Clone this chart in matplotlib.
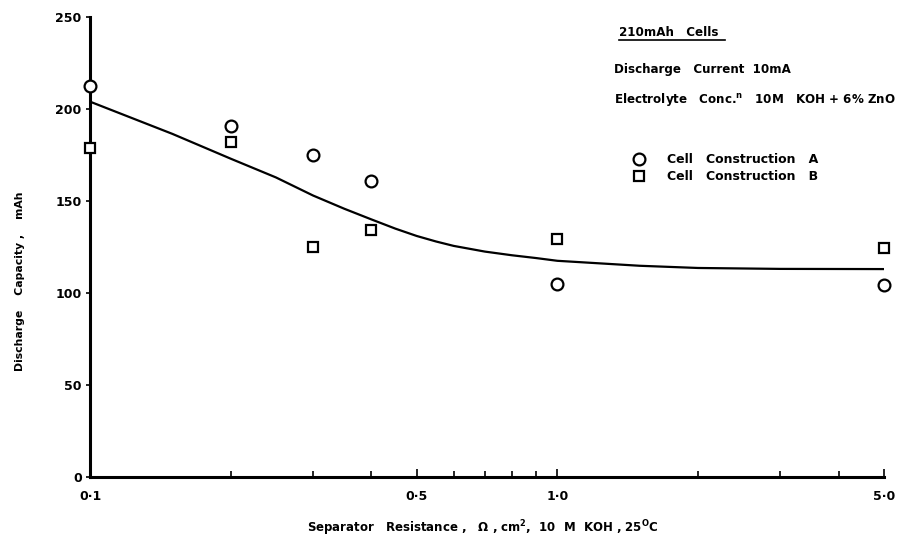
import matplotlib
matplotlib.use("Agg")
import matplotlib.pyplot as plt
from matplotlib.ticker import FixedLocator, FixedFormatter, NullFormatter

plt.rcParams['font.family'] = ['DejaVu Sans']
plt.rcParams['mathtext.fontset'] = 'dejavusans'

# Separator resistance (ohm cm^2) for each tested cell
resistance = [0.1, 0.2, 0.3, 0.4, 1.0, 5.0]
capacity_a = [212.5, 190.8, 175.0, 160.9, 104.9, 104.3]
capacity_b = [178.8, 182.0, 125.0, 134.0, 129.3, 124.5]

# Drawn trend line through the data
trend_x = [0.1, 0.15, 0.2, 0.25, 0.3, 0.35, 0.4, 0.45, 0.5, 0.55, 0.6, 0.7,
           0.8, 0.9, 1.0, 1.5, 2.0, 3.0, 5.0]
trend_y = [204.0, 186.5, 173.0, 162.8, 153.0, 145.8, 140.0, 135.0, 131.0, 128.0,
           125.6, 122.5, 120.5, 119.0, 117.5, 114.8, 113.6, 113.1, 113.0]

xtick_vals = [0.1, 0.5, 1.0, 5.0]
xtick_text = ['0·1', '0·5', '1·0', '5·0']
minor_vals = [0.2, 0.3, 0.4, 0.6, 0.7, 0.8, 0.9, 2.0, 3.0, 4.0]
ytick_vals = [0, 50, 100, 150, 200, 250]

fig = plt.figure(figsize=(8.99, 5.39), dpi=100)
ax = fig.add_axes([90/899, 1-477/539, (884-90)/899, (477-17)/539])

ax.set_xscale('log')
ax.set_xlim(0.1, 5.0)
ax.set_ylim(0, 250)

ax.plot(trend_x, trend_y, color='black', lw=1.6, solid_capstyle='round',
        solid_joinstyle='round', zorder=2)
ax.plot(resistance, capacity_a, linestyle='none', marker='o', ms=8.5,
        mfc='white', mec='black', mew=1.6, clip_on=False, zorder=3,
        label='Cell   Construction   A')
ax.plot(resistance, capacity_b, linestyle='none', marker='s', ms=7.8,
        mfc='white', mec='black', mew=1.6, clip_on=False, zorder=3,
        label='Cell   Construction   B')

for side in ('top', 'right'):
    ax.spines[side].set_visible(False)
for side in ('left', 'bottom'):
    ax.spines[side].set_linewidth(2.2)

ax.xaxis.set_major_locator(FixedLocator(xtick_vals))
ax.xaxis.set_major_formatter(FixedFormatter(xtick_text))
ax.xaxis.set_minor_locator(FixedLocator(minor_vals))
ax.xaxis.set_minor_formatter(NullFormatter())
ax.tick_params(axis='x', which='major', direction='in', length=6, width=1.2, pad=9,
               labelsize=9)
ax.tick_params(axis='x', which='minor', direction='in', length=4, width=1.2)
ax.yaxis.set_major_locator(FixedLocator(ytick_vals))
ax.tick_params(axis='y', direction='out', length=3, width=1.2, pad=3, labelsize=9)
for lbl in ax.get_xticklabels() + ax.get_yticklabels():
    lbl.set_fontweight('bold')

ax.set_xlabel('Separator   Resistance ,   $\\mathbf{\\Omega}$ , cm$^{\\mathbf{2}}$,  10  M  KOH , 25$^{\\mathbf{O}}$C',
              fontsize=8.5, fontweight='bold')
ax.xaxis.set_label_coords(0.495, -0.09)
ax.set_ylabel('Discharge    Capacity ,    mAh', fontsize=7.8, fontweight='bold')
ax.yaxis.set_label_coords(-0.082, 0.426)

txt_kw = dict(transform=fig.transFigure, fontsize=8.6, fontweight='bold',
              ha='left', va='center')
fig.text(619/899, 1-32/539, '210mAh   Cells', **txt_kw)
fig.add_artist(plt.Line2D([619/899, 725/899], [1-40/539, 1-40/539],
                          transform=fig.transFigure, color='black', lw=1.2))
fig.text(614/899, 1-70/539, 'Discharge   Current  10mA', **txt_kw)
fig.text(614/899, 1-100/539, 'Electrolyte   Conc.$^{\\mathbf{n}}$   10M   KOH + 6% ZnO',
         transform=fig.transFigure, fontsize=8.6, fontweight='bold',
         ha='left', va='center')

leg = ax.legend(loc='upper left', bbox_to_anchor=(633/899, 1-153/539),
                bbox_transform=fig.transFigure, frameon=False, fontsize=9,
                handletextpad=1.7, labelspacing=0.35, handlelength=1.0,
                borderpad=0, borderaxespad=0)
for t in leg.get_texts():
    t.set_fontweight('bold')

fig.savefig('out.png', dpi=100, facecolor='white')
